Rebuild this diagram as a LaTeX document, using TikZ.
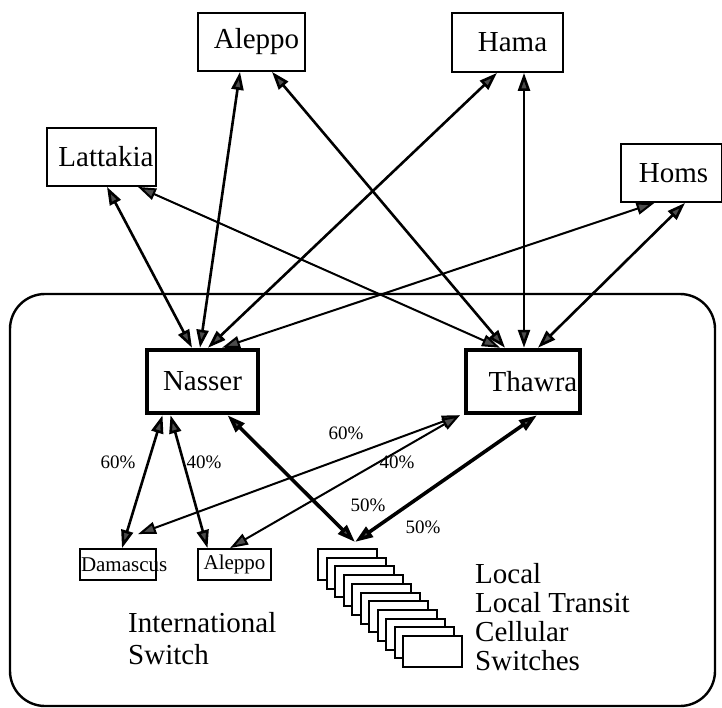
\documentclass[tikz,border=0pt]{standalone}
\usepackage{fontspec}
\setmainfont{Liberation Serif}
\usetikzlibrary{arrows.meta}
\begin{document}
\begin{tikzpicture}[x=1pt,y=-1pt,
  city/.style={draw, fill=white, line width=1.8pt, inner sep=0pt, font=\fontsize{29}{29}\selectfont},
  hub/.style={draw, fill=white, line width=4.5pt, inner sep=0pt, minimum height=63pt, font=\fontsize{29}{29}\selectfont},
  small/.style={draw, fill=white, line width=1.8pt, inner sep=0pt, minimum height=31pt, font=\fontsize{21}{21}\selectfont},
  swbox/.style={draw, fill=white, line width=2pt, minimum width=59pt, minimum height=31pt, inner sep=0pt},
  link/.style={<->, >={Triangle[length=18pt,width=12pt,fill=black!70]}, line width=2.6pt},
  thinlink/.style={link, line width=2pt},
  boldlink/.style={link, line width=3.6pt},
  pct/.style={inner sep=0pt, font=\fontsize{19}{19}\selectfont},
  note/.style={inner sep=0pt, align=left, anchor=north west}
]
\useasboundingbox (0,0) rectangle (722,708);
% enclosing region
\draw[line width=2.4pt, rounded corners=35pt] (10,294) rectangle (715,706);

% city nodes
\node[city, minimum width=107pt, minimum height=58pt] (aleppoT) at (251.5,42) {\hspace*{10pt}Aleppo};
\node[city, minimum width=111pt, minimum height=59pt] (hama) at (507.5,42.5) {\hspace*{10pt}Hama};
\node[city, minimum width=109pt, minimum height=58pt] (lat) at (101.5,157) {\hspace*{9pt}Lattakia};
\node[city, minimum width=101pt, minimum height=58pt] (homs) at (671.5,173) {\hspace*{4pt}Homs};

% hub switches
\node[hub, minimum width=111pt] (nasser) at (202.5,381.5) {Nasser};
\node[hub, minimum width=114pt] (thawra) at (523,381.5) {\hspace*{20pt}Thawra};

% international switches
\node[small] (dam) at (118,564.5) {\makebox[76pt][l]{\hspace{1pt}Damascus}};
\node[small, minimum width=73pt] (alepS) at (234.5,564.5) {Aleppo};

% stack of local switches
\foreach \i in {0,...,10} {
  \node[swbox] (s\i) at ({347.5+8.5*\i},{564.5+8.7*\i}) {};
}

% upper links
\draw[link] ([xshift=5.5pt]lat.south) -- ([xshift=-10.5pt]nasser.north);
\draw[link] ([xshift=-11.5pt]aleppoT.south) -- ([xshift=-2.5pt]nasser.north);
\draw[link] ([xshift=-10.5pt]hama.south) -- ([xshift=5.5pt]nasser.north);
\draw[thinlink] ([xshift=-17pt]homs.south) -- ([xshift=19.5pt]nasser.north);
\draw[thinlink] ([xshift=36.5pt]lat.south) -- ([xshift=-23pt]thawra.north);
\draw[link] ([xshift=20.5pt]aleppoT.south) -- ([xshift=-18pt]thawra.north);
\draw[link] ([xshift=16.5pt]hama.south) -- ([xshift=1pt]thawra.north);
\draw[link] ([xshift=13.5pt]homs.south) -- ([xshift=15pt]thawra.north);

% lower links
\draw[link] ([xshift=-40pt]nasser.south) -- ([xshift=4pt]dam.north);
\draw[link] ([xshift=-32pt]nasser.south) -- ([xshift=-27pt]alepS.north);
\draw[boldlink] ([xshift=25pt]nasser.south) -- ([xshift=7.5pt,yshift=6pt]s0.north);
\draw[thinlink] ([xshift=-63pt]thawra.south) -- ([xshift=20pt,yshift=14pt]dam.north);
\draw[thinlink] ([xshift=-63pt]thawra.south) -- ([xshift=-4.5pt]alepS.north);
\draw[boldlink] ([xshift=14pt]thawra.south) -- ([xshift=7.5pt,yshift=6pt]s0.north);

% percentages
\node[pct] (p1) at (118,462) {60\%};
\node[pct] (p2) at (204,462) {40\%};
\node[pct] (p3) at (346,433) {60\%};
\node[pct] (p4) at (397,462) {40\%};
\node[pct] (p5) at (368,505) {50\%};
\node[pct] (p6) at (423,527) {50\%};

% notes
\node[note, font=\fontsize{29}{32}\selectfont] (intl) at (128,612) {International\\Switch};
\node[note, font=\fontsize{29}{29}\selectfont] (loc) at (475,563) {Local\\Local Transit\\Cellular\\Switches};
\end{tikzpicture}
\end{document}
